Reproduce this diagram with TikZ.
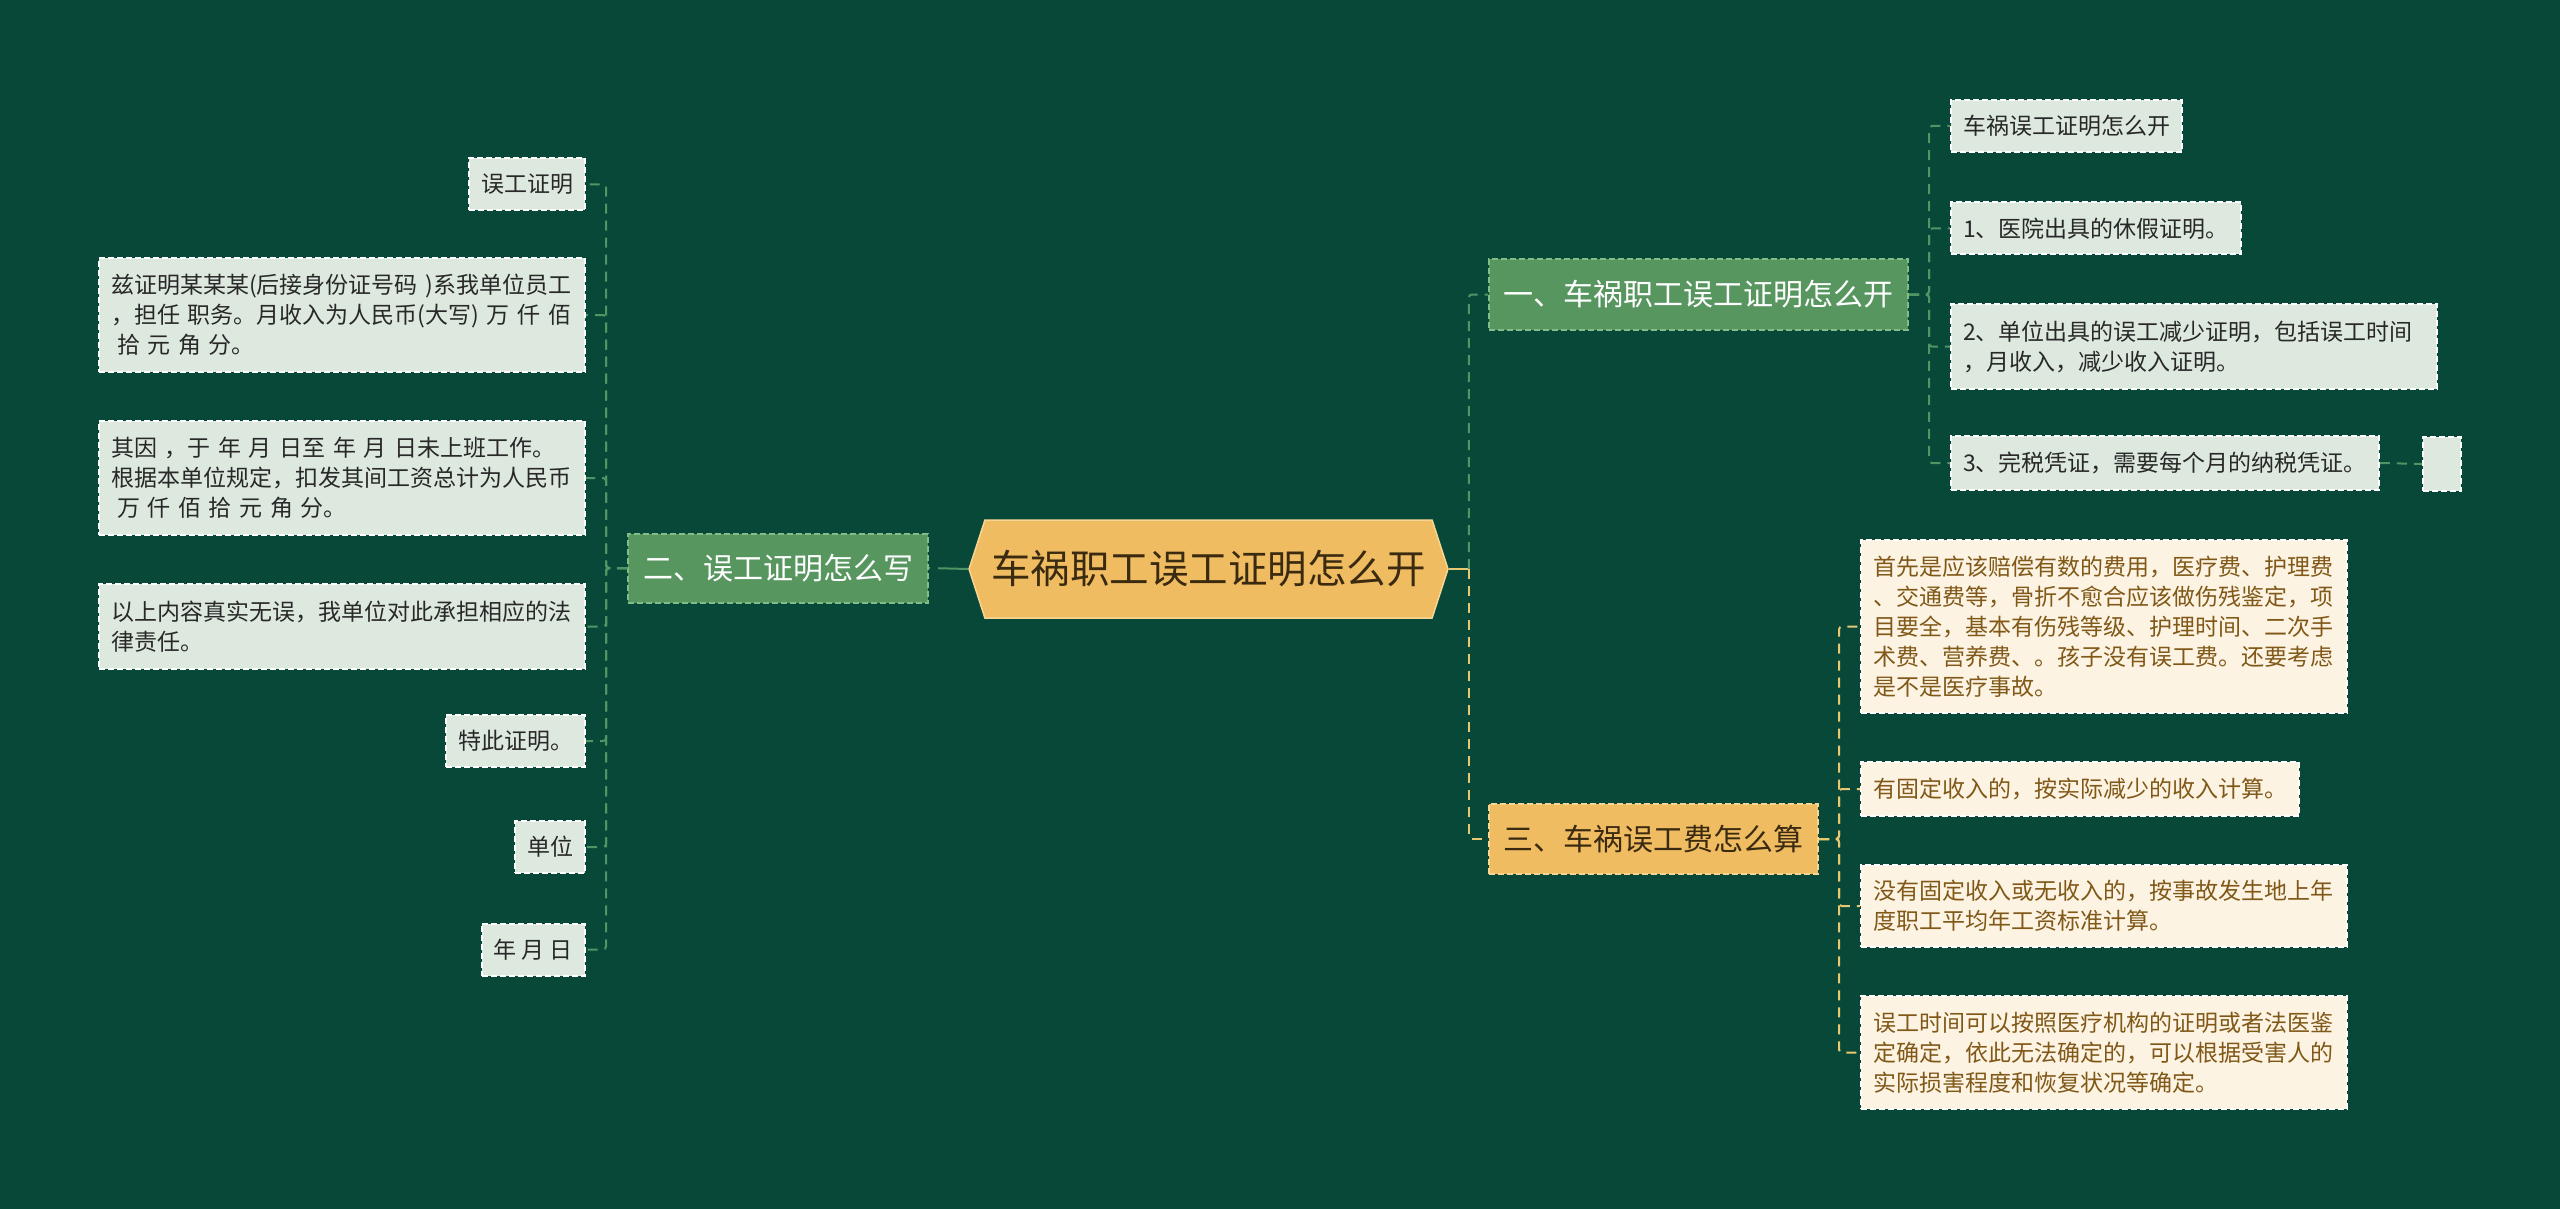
\documentclass[tikz,border=0pt]{standalone}
\usepackage{fontspec}
\setmainfont{Noto Sans CJK SC}
\usepackage{tikz}
\usetikzlibrary{shapes.symbols}
\definecolor{bgteal}{RGB}{7,72,57}
\definecolor{topicgreen}{RGB}{88,150,96}
\definecolor{topicedge}{RGB}{130,188,136}
\definecolor{leafgray}{RGB}{221,233,223}
\definecolor{leafink}{RGB}{40,40,40}
\definecolor{gold}{RGB}{240,188,98}
\definecolor{goldedge}{RGB}{248,214,146}
\definecolor{goldink}{RGB}{58,42,16}
\definecolor{cream}{RGB}{253,243,226}
\definecolor{creamink}{RGB}{128,88,24}
\definecolor{linkgreen}{RGB}{80,150,100}
\definecolor{linkgold}{RGB}{232,200,112}

\begin{document}
\begin{tikzpicture}[x=1pt,y=-1pt,
  rootbox/.style={signal,signal to=east and west,signal pointer angle=144,fill=gold,draw=goldedge,line width=1.5pt,text=goldink,font=\fontsize{39.5}{44}\selectfont,minimum width=479pt,minimum height=98pt,inner sep=0pt},
  topic/.style={fill=topicgreen,draw=topicedge,line width=2pt,dash pattern=on 6pt off 3pt,text=white,font=\fontsize{30}{36}\selectfont,inner sep=0pt},
  goldtopic/.style={topic,fill=gold,draw=goldedge,text=goldink},
  leaf/.style={fill=leafgray,draw=white,line width=2pt,dash pattern=on 6pt off 3pt,text=leafink,font=\fontsize{23}{30}\selectfont,inner xsep=12pt,inner ysep=0pt,minimum height=52pt},
  wide/.style={text width=462pt,align=left},
  creamleaf/.style={leaf,fill=cream,text=creamink},
  gdash/.style={linkgreen,line width=2pt,dash pattern=on 10pt off 7pt,rounded corners=3pt},
  ydash/.style={gdash,linkgold}]
  \fill[bgteal] (0,0) rectangle (2560,1209);
  \node[rootbox] (root) at (1208.5,569) {车祸职工误工证明怎么开};
  \node[topic,minimum width=300pt,minimum height=69pt] (write) at (778,568) {二、误工证明怎么写};
  \node[topic,minimum width=419pt,minimum height=71pt] (issue) at (1698.5,294.5) {一、车祸职工误工证明怎么开};
  \node[goldtopic,minimum width=329pt,minimum height=70pt] (calc) at (1653.5,839) {三、车祸误工费怎么算};
  \node[leaf,anchor=east] (w1) at (586,184.5) {误工证明};
  \node[leaf,wide,anchor=east,minimum height=114pt] (w2) at (586,315) {兹证明某某某(后接身份证号码 )系我单位员工\\，担任 职务。月收入为人民币(大写) 万 仟 佰\\\hspace*{6pt}拾 元 角 分。};
  \node[leaf,wide,anchor=east,minimum height=114pt] (w3) at (586,478) {其因 ，于 年 月 日至 年 月 日未上班工作。\\根据本单位规定，扣发其间工资总计为人民币\\\hspace*{6pt}万 仟 佰 拾 元 角 分。};
  \node[leaf,wide,anchor=east,minimum height=85pt] (w4) at (586,626.5) {以上内容真实无误，我单位对此承担相应的法\\律责任。};
  \node[leaf,anchor=east] (w5) at (586,741) {特此证明。};
  \node[leaf,anchor=east] (w6) at (586,847) {单位};
  \node[leaf,anchor=east] (w7) at (586,949.5) {年 月 日};
  \node[leaf,anchor=west] (i1) at (1950,126) {车祸误工证明怎么开};
  \node[leaf,anchor=west] (i2) at (1950,228.5) {1、医院出具的休假证明。};
  \node[leaf,wide,anchor=west,minimum height=85pt] (i3) at (1950,346.5) {2、单位出具的误工减少证明，包括误工时间\\，月收入，减少收入证明。};
  \node[leaf,anchor=west,minimum height=54pt] (i4) at (1950,463) {3、完税凭证，需要每个月的纳税凭证。};
  \node[leaf,minimum width=38pt,minimum height=54pt,inner xsep=0pt] (i5) at (2442,464) {};
  \node[creamleaf,wide,anchor=west,minimum height=173pt] (c1) at (1860,626.5) {首先是应该赔偿有数的费用，医疗费、护理费\\、交通费等，骨折不愈合应该做伤残鉴定，项\\目要全，基本有伤残等级、护理时间、二次手\\术费、营养费、。孩子没有误工费。还要考虑\\是不是医疗事故。};
  \node[creamleaf,anchor=west,minimum height=54pt] (c2) at (1860,789) {有固定收入的，按实际减少的收入计算。};
  \node[creamleaf,wide,anchor=west,minimum height=82pt] (c3) at (1860,906) {没有固定收入或无收入的，按事故发生地上年\\度职工平均年工资标准计算。};
  \node[creamleaf,wide,anchor=west,minimum height=113pt] (c4) at (1860,1052.5) {误工时间可以按照医疗机构的证明或者法医鉴\\定确定，依此无法确定的，可以根据受害人的\\实际损害程度和恢复状况等确定。};
  \draw[linkgreen,line width=2pt,dash pattern=on 30pt off 8pt] (root.west) -- (write.east);
  \coordinate (wj) at ([xshift=-21pt]write.west);
  \foreach \n in {w1,w2,w3,w4,w5,w6,w7}
    \draw[gdash] (write.west) -- (wj) |- (\n.east);
  \coordinate (rj) at ([xshift=20pt]root.east);
  \draw[linkgold,line width=2pt] (root.east) -- (rj);
  \draw[gdash] (rj) |- (issue.west);
  \draw[ydash] (rj) |- (calc.west);
  \coordinate (ij) at ([xshift=20pt]issue.east);
  \foreach \n in {i1,i2,i3,i4}
    \draw[gdash] (issue.east) -- (ij) |- (\n.west);
  \draw[gdash] (i4.east) -- (i5.west);
  \coordinate (cj) at ([xshift=20pt]calc.east);
  \foreach \n in {c1,c2,c3,c4}
    \draw[ydash] (calc.east) -- (cj) |- (\n.west);
\end{tikzpicture}
\end{document}
